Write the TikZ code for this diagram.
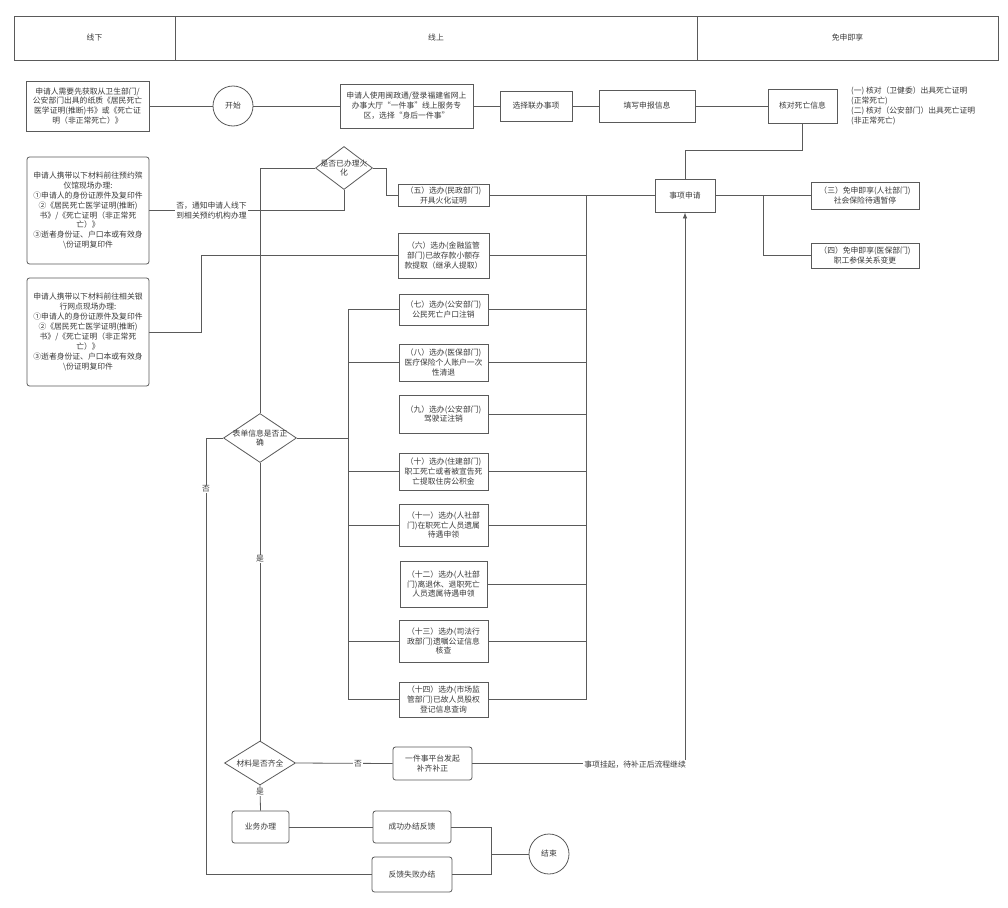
\documentclass[tikz,border=0pt]{standalone}
\usepackage{fontspec}
\setmainfont{Noto Sans CJK SC}
\usetikzlibrary{shapes.geometric,arrows.meta}
\definecolor{lc}{HTML}{5A5A5A}
\definecolor{tc}{HTML}{3A3A3A}
\begin{document}
\begin{tikzpicture}[x=1pt,y=-1pt,
  every node/.style={font=\fontsize{7.8}{9.9}\selectfont, text=tc},
  conn/.style={draw=lc, line width=0.8pt},
  box/.style={draw=lc, line width=0.8pt, rectangle, align=center, inner sep=1pt},
  rbox/.style={box, rounded corners=2.5pt},
  dia/.style={draw=lc, line width=0.8pt, diamond, inner sep=0pt},
  circ/.style={draw=lc, line width=0.8pt, circle, minimum size=40pt, inner sep=0pt},
  lab/.style={fill=white, inner sep=1pt, align=center},
  diatext/.style={align=center, inner sep=0pt},
]
\useasboundingbox[fill=white] (0,0) rectangle (1008,907);

% header
\node[draw=lc, line width=0.8pt, minimum width=161, minimum height=44, inner sep=0pt] (h1) at (94.5,38) {线下};
\node[draw=lc, line width=0.8pt, minimum width=522, minimum height=44, inner sep=0pt] (h2) at (436,38) {线上};
\node[draw=lc, line width=0.8pt, minimum width=301, minimum height=44, inner sep=0pt] (h3) at (847.5,38) {免申即享};

% top row
\node[box, minimum width=123, minimum height=50] (pre) at (87.5,106) {申请人需要先获取从卫生部门/\\公安部门出具的纸质《居民死亡\\医学证明(推断)书》或《死亡证\\明（非正常死亡）》};
\node[circ] (start) at (233,106) {开始};
\node[box, minimum width=133, minimum height=44] (apply) at (406.5,106) {申请人使用闽政通/登录福建省网上\\办事大厅“一件事”线上服务专\\区，选择“身后一件事”};
\node[box, minimum width=72, minimum height=30] (sel) at (536,106) {选择联办事项};
\node[box, minimum width=96, minimum height=32] (fill) at (647,106) {填写申报信息};
\node[box, minimum width=69, minimum height=34] (verify) at (802.5,106) {核对死亡信息};
\node[align=left, anchor=north west, inner sep=0pt] (note) at (851,87) {(一) 核对（卫健委）出具死亡证明\\(正常死亡)\\(二) 核对（公安部门）出具死亡证明\\(非正常死亡)};

% right part
\node[box, minimum width=60, minimum height=33] (sx) at (685,195.5) {事项申请};
\node[box, minimum width=108, minimum height=27] (s3) at (865,195.5) {（三）免申即享(人社部门)\\社会保险待遇暂停};
\node[box, minimum width=108, minimum height=25] (s4) at (865,255.5) {（四）免申即享(医保部门)\\职工参保关系变更};

% left boxes
\node[rbox, minimum width=122, minimum height=107] (L1) at (88,210.5) {申请人携带以下材料前往预约殡\\仪馆现场办理:\\①申请人的身份证原件及复印件\\②《居民死亡医学证明(推断)\\书》/《死亡证明（非正常死\\亡）》\\③逝者身份证、户口本或有效身\\\textbackslash 份证明复印件};
\node[rbox, minimum width=122, minimum height=108] (L2) at (88,332) {申请人携带以下材料前往相关银\\行网点现场办理:\\①申请人的身份证原件及复印件\\②《居民死亡医学证明(推断)\\书》/《死亡证明（非正常死\\亡）》\\③逝者身份证、户口本或有效身\\\textbackslash 份证明复印件};

% diamonds
\node[dia, minimum width=57, minimum height=43, label={[diatext]center:{是否已办理火\\化}}] (d1) at (344,168) {};
\node[dia, minimum width=73, minimum height=49, label={[diatext]center:{表单信息是否正\\确}}] (d2) at (260,438) {};
\node[dia, minimum width=71, minimum height=44, label={[diatext]center:{材料是否齐全}}] (d3) at (260,763) {};

% middle column
\node[box, minimum width=91, minimum height=22] (b5) at (443.5,195.5) {（五）选办(民政部门)\\开具火化证明};
\node[box, minimum width=91, minimum height=45] (b6) at (443.5,255.5) {（六）选办(金融监管\\部门)已故存款小额存\\款提取（继承人提取）};
\node[box, minimum width=89, minimum height=31] (b7) at (443.5,309.5) {（七）选办(公安部门)\\公民死亡户口注销};
\node[box, minimum width=89, minimum height=37] (b8) at (443.5,362.5) {（八）选办(医保部门)\\医疗保险个人账户一次\\性清退};
\node[box, minimum width=89, minimum height=38] (b9) at (443.5,414) {（九）选办(公安部门)\\驾驶证注销};
\node[box, minimum width=89, minimum height=37] (b10) at (443.5,471.5) {（十）选办(住建部门)\\职工死亡或者被宣告死\\亡提取住房公积金};
\node[box, minimum width=89, minimum height=42] (b11) at (443.5,525) {（十一）选办(人社部\\门)在职死亡人员遗属\\待遇申领};
\node[box, minimum width=87, minimum height=46] (b12) at (443.5,584) {（十二）选办(人社部\\门)离退休、退职死亡\\人员遗属待遇申领};
\node[box, minimum width=89, minimum height=42] (b13) at (443.5,641) {（十三）选办(司法行\\政部门)遗嘱公证信息\\核查};
\node[box, minimum width=89, minimum height=35] (b14) at (443.5,699.5) {（十四）选办(市场监\\管部门)已故人员股权\\登记信息查询};

% bottom
\node[rbox, minimum width=79, minimum height=33] (yj) at (432.5,763.5) {一件事平台发起\\补齐补正};
\node[rbox, minimum width=57, minimum height=32] (yw) at (260.5,827) {业务办理};
\node[rbox, minimum width=78, minimum height=32] (cg) at (412,827) {成功办结反馈};
\node[rbox, minimum width=80, minimum height=35] (fk) at (412,874.5) {反馈失败办结};
\node[circ] (end) at (549,854) {结束};

% coordinates
\coordinate (rb) at (586,195.5);
\coordinate (lb) at (348,309.5);
\coordinate (br) at (763,195.5);
\coordinate (jn) at (491,854);

% top row connectors
\draw[conn] (pre.east) -- (start.west);
\draw[conn] (start.east) -- (apply.west);
\draw[conn] (apply.east) -- (sel.west);
\draw[conn] (sel.east) -- (fill.west);
\draw[conn] (fill.east) -- (verify.west);
\draw[conn] (verify.south) |- (685,150) -- (sx.north);
\draw[conn] (sx.east) -- (s3.west);
\draw[conn] (br) |- (s4.west);

% cremation decision
\draw[conn] (d1.west) -| (d2.north);
\draw[conn] (d1.east) -- (386,168) |- (b5.west);
\draw[conn] (d1.south) |- (L1.east);
\node[lab] (nolab1) at (211.5,210.5) {否，通知申请人线下\\到相关预约机构办理};
\draw[conn] (b5.east) -- (sx.west);
\draw[conn] (b6.west) -| (201,332) -- (L2.east);

% right bus
\draw[conn] (rb) -- (b14.east -| rb) -- (b14.east);
\foreach \n in {b6,b7,b8,b9,b10,b11,b12,b13}
  \draw[conn] (\n.east) -- (\n.east -| rb);

% left bus
\draw[conn] (b7.west) -- (lb) -- (b14.west -| lb) -- (b14.west);
\foreach \n in {b8,b10,b11,b13}
  \draw[conn] (\n.west) -- (\n.west -| lb);
\draw[conn] (d2.east) -- (d2.east -| lb);

% form decision
\draw[conn] (d2.south) -- (d3.north);
\node[lab] (yes1) at (260,559) {是};
\draw[conn] (d2.west) -- (206,438) |- (fk.west);
\node[lab] (no2) at (206,489) {否};

% material decision
\draw[conn] (d3.east) -- (yj.west);
\node[lab] (no3) at (358,763.5) {否};
\draw[conn, -{Latex[length=6pt,width=4.5pt]}] (yj.east) -| (sx.south);
\node[lab, anchor=east] (hang) at (687,765) {事项挂起，待补正后流程继续};
\draw[conn] (d3.south) -- (yw.north);
\node[lab] (yes2) at (260,792) {是};

% finish
\draw[conn] (yw.east) -- (cg.west);
\draw[conn] (cg.east) -| (jn);
\draw[conn] (fk.east) -| (jn);
\draw[conn] (jn) -- (end.west);
\end{tikzpicture}
\end{document}
